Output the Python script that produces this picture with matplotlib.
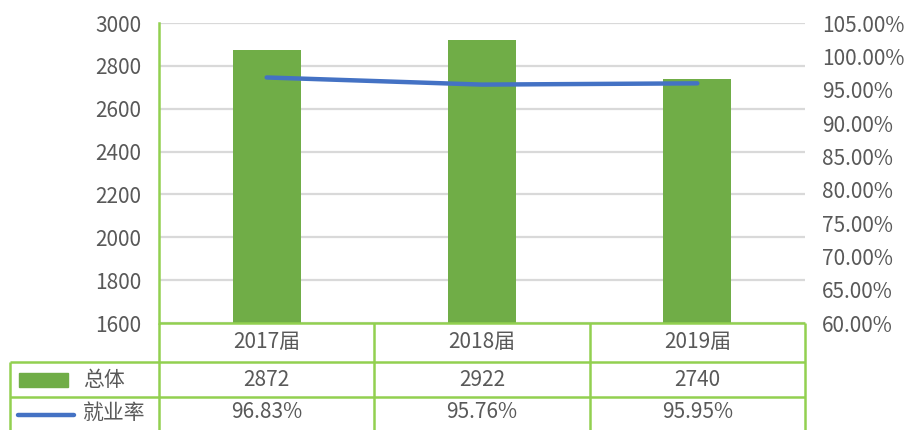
import matplotlib
matplotlib.use("Agg")
import matplotlib.pyplot as plt
from matplotlib.ticker import FuncFormatter, MultipleLocator

plt.rcParams['font.family'] = ['Noto Sans CJK SC', 'DejaVu Sans']

# ---- data ----
categories = ["2017届", "2018届", "2019届"]
totals     = [2872, 2922, 2740]
rates      = [96.83, 95.76, 95.95]
bar_name, line_name = "总体", "就业率"

GREEN, BLUE  = "#70AD47", "#4472C4"
BORDER, GRID = "#92D050", "#D9D9D9"
TXT          = "#595959"
FS           = 15

W, H = 907, 430
fig = plt.figure(figsize=(W / 100, H / 100), dpi=100)

# plot area in pixels
L, R, T, B = 159, 805, 23, 323
ax = fig.add_axes([L / W, 1 - B / H, (R - L) / W, (B - T) / H])
x = list(range(len(categories)))

ax.bar(x, [v - 1600 for v in totals], bottom=1600, width=0.315,
       color=GREEN, zorder=3)
ax.set_xlim(-0.5, len(categories) - 0.5)
ax.set_ylim(1600, 3000)
ax.yaxis.set_major_locator(MultipleLocator(200))
ax.set_xticks([])
ax.grid(axis="y", color=GRID, lw=1.6, zorder=0)
for s in ["top", "right", "bottom"]:
    ax.spines[s].set_visible(False)
ax.spines["left"].set_color(BORDER)
ax.spines["left"].set_linewidth(1.8)
ax.tick_params(axis="y", length=0, pad=12.5, labelsize=FS, labelcolor=TXT)

ax2 = ax.twinx()
ax2.plot(x, rates, color=BLUE, lw=3.2, solid_capstyle="round", zorder=4)
ax2.set_ylim(60, 105)
ax2.yaxis.set_major_locator(MultipleLocator(5))
ax2.yaxis.set_major_formatter(FuncFormatter(lambda v, p: f"{v:.2f}%"))
for s in ax2.spines.values():
    s.set_visible(False)
ax2.tick_params(axis="y", length=0, pad=12, labelsize=FS, labelcolor=TXT)

# ---- data table below the plot (pixel coords) ----
tb = fig.add_axes([0, 0, 1, 1], zorder=5)
tb.set_xlim(0, W)
tb.set_ylim(H, 0)
tb.axis("off")

cw = (R - L) / len(categories)
col_edges = [L + cw * i for i in range(len(categories) + 1)]
row_edges = [B, 362, 397, 432]
LEG_L = 10
kw = dict(color=BORDER, lw=1.8, solid_capstyle="butt")

tb.plot([L, R], [row_edges[0]] * 2, **kw)
for y in row_edges[1:3]:
    tb.plot([LEG_L, R], [y, y], **kw)
tb.plot([LEG_L, LEG_L], [row_edges[1], row_edges[-1]], **kw)
tb.plot([L, L], [row_edges[0], row_edges[-1]], **kw)
for xe in col_edges[1:]:
    tb.plot([xe, xe], [row_edges[0], row_edges[-1]], **kw)

mids = [(row_edges[i] + row_edges[i + 1]) / 2 for i in range(3)]
mids[2] -= 2
for i, c in enumerate(categories):
    cx = (col_edges[i] + col_edges[i + 1]) / 2
    tb.text(cx, mids[0], c, ha="center", va="center", fontsize=FS, color=TXT)
    tb.text(cx, mids[1], f"{totals[i]}", ha="center", va="center",
            fontsize=FS, color=TXT)
    tb.text(cx, mids[2], f"{rates[i]:.2f}%", ha="center", va="center",
            fontsize=FS, color=TXT)

# legend keys
tb.add_patch(plt.Rectangle((19, mids[1] - 7), 49, 14, color=GREEN))
tb.text(83, mids[1], bar_name, ha="left", va="center", fontsize=FS, color=TXT)
tb.plot([18, 74], [mids[2] + 2, mids[2] + 2], color=BLUE, lw=3.2,
        solid_capstyle="round")
tb.text(83, mids[2], line_name, ha="left", va="center", fontsize=FS, color=TXT)

fig.savefig("out.png", dpi=100)
